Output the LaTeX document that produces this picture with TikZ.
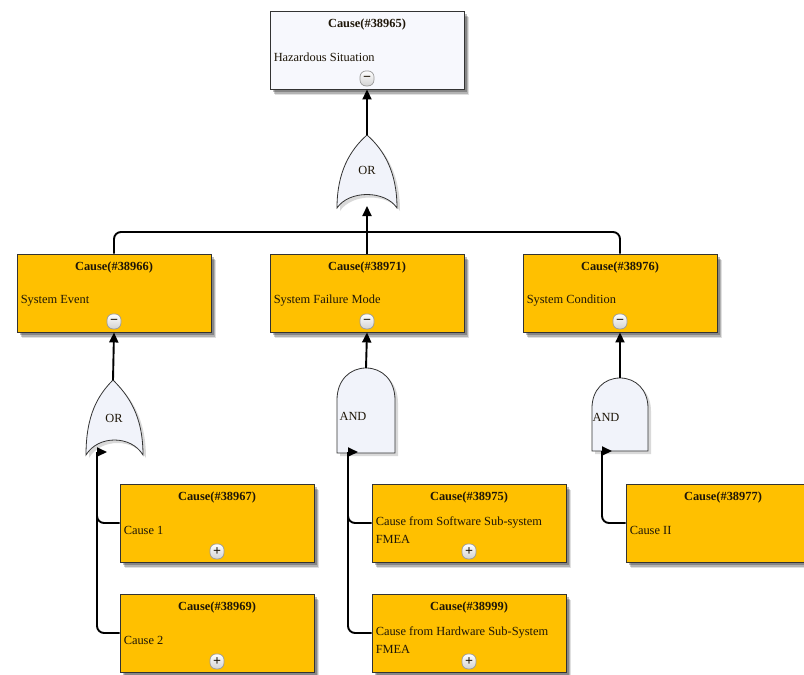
\documentclass[tikz,border=0pt]{standalone}
\usepackage{fontspec}
\setmainfont{Liberation Serif}
\usetikzlibrary{arrows.meta,shadows}

\definecolor{causeorange}{HTML}{FFC000}
\definecolor{topfill}{HTML}{F7F8FD}
\definecolor{gatefill}{HTML}{F1F3FA}
\definecolor{edgegray}{HTML}{333333}
\definecolor{inktext}{HTML}{1E1608}

\tikzset{
  every node/.style={font=\fontsize{12.4}{18}\selectfont, text=inktext},
  softshadow/.style={
    general shadow={shadow xshift=5pt, shadow yshift=-6pt, fill=black, opacity=0.12},
    general shadow={shadow xshift=4pt, shadow yshift=-4.5pt, fill=black, opacity=0.2},
    general shadow={shadow xshift=2.5pt, shadow yshift=-3pt, fill=black, opacity=0.25}},
  causebox/.style={draw=edgegray, line width=0.9pt, minimum width=194pt,
    minimum height=78pt, inner sep=0pt, softshadow},
  orangebox/.style={causebox, fill=causeorange},
  whitebox/.style={causebox, fill=topfill},
  titletext/.style={font=\fontsize{12.4}{18}\selectfont\bfseries, inner sep=0pt},
  bodytext/.style={anchor=west, align=left, inner sep=0pt},
  toggle/.style={rounded corners=6pt, draw=gray!80, line width=0.7pt, top color=white,
    bottom color=gray!35, minimum width=14pt, minimum height=15pt, inner sep=0pt,
    font=\fontsize{14}{14}\selectfont\bfseries},
  gate/.style={draw=edgegray, line width=0.8pt, fill=gatefill,
    general shadow={shadow xshift=3pt, shadow yshift=-3pt, fill=black, opacity=0.15}},
  gatelabel/.style={inner sep=0pt},
  line/.style={draw=black, line width=1.9pt},
  conn/.style={line, -{Triangle[length=10pt,width=9pt]}},
}

\begin{document}
\begin{tikzpicture}[x=1pt, y=-1pt]
\useasboundingbox (0,0) rectangle (804,675);

% ---------- logic gates ----------
\draw[gate] (337,208) .. controls (337,172) and (350,150) .. (367,135)
  .. controls (384,150) and (397,172) .. (397,208)
  .. controls (385,190) and (349,190) .. (337,208) -- cycle;
\node[gatelabel] (g1) at (367,170) {OR};

\draw[gate] (86,455) .. controls (86,415) and (98,395) .. (113,380)
  .. controls (128,395) and (143,415) .. (143,455)
  .. controls (131,435) and (98,435) .. (86,455) -- cycle;
\node[gatelabel] (g2) at (114,418) {OR};

\draw[gate] (337,453) -- (337,400) .. controls (337,380) and (350,368) .. (366,368)
  .. controls (382,368) and (395,380) .. (395,400) -- (395,453) -- cycle;
\node[gatelabel] (g3) at (353,416) {AND};

\draw[gate] (592,451) -- (592,408) .. controls (592,390) and (604,378) .. (620,378)
  .. controls (636,378) and (648,390) .. (648,408) -- (648,451) -- cycle;
\node[gatelabel] (g4) at (606,417) {AND};

% gate terminals
\coordinate (g1top) at (367,135);
\coordinate (g1in)  at (367,206);
\coordinate (g2top) at (113,380);
\coordinate (g3top) at (366,368);
\coordinate (g4top) at (620,378);
\coordinate (g2bend) at (97,452);  \coordinate (g2in) at (107,452);
\coordinate (g3bend) at (348,452); \coordinate (g3in) at (358,452);
\coordinate (g4bend) at (602,451); \coordinate (g4in) at (612,451);
\coordinate (bus) at (367,232);

% ---------- cause boxes ----------
\node[whitebox] (b1) at (367,50) {};
\node[titletext] (b1t) at ([yshift=-14pt]b1.north) {Cause(\#38965)};
\node[bodytext] (b1x) at ([xshift=4pt,yshift=-47pt]b1.north west) {Hazardous Situation};
\node[toggle] (b1m) at ([yshift=11pt]b1.south) {−};

\node[orangebox] (b2) at (114,293) {};
\node[titletext] (b2t) at ([yshift=-14pt]b2.north) {Cause(\#38966)};
\node[bodytext] (b2x) at ([xshift=4pt,yshift=-47pt]b2.north west) {System Event};
\node[toggle] (b2m) at ([yshift=11pt]b2.south) {−};

\node[orangebox] (b3) at (367,293) {};
\node[titletext] (b3t) at ([yshift=-14pt]b3.north) {Cause(\#38971)};
\node[bodytext] (b3x) at ([xshift=4pt,yshift=-47pt]b3.north west) {System Failure Mode};
\node[toggle] (b3m) at ([yshift=11pt]b3.south) {−};

\node[orangebox] (b4) at (620,293) {};
\node[titletext] (b4t) at ([yshift=-14pt]b4.north) {Cause(\#38976)};
\node[bodytext] (b4x) at ([xshift=4pt,yshift=-47pt]b4.north west) {System Condition};
\node[toggle] (b4m) at ([yshift=11pt]b4.south) {−};

\node[orangebox] (c1) at (217,523) {};
\node[titletext] (c1t) at ([yshift=-14pt]c1.north) {Cause(\#38967)};
\node[bodytext] (c1x) at ([xshift=4pt,yshift=-47pt]c1.north west) {Cause 1};
\node[toggle] (c1p) at ([yshift=11pt]c1.south) {+};

\node[orangebox] (c2) at (217,633) {};
\node[titletext] (c2t) at ([yshift=-14pt]c2.north) {Cause(\#38969)};
\node[bodytext] (c2x) at ([xshift=4pt,yshift=-47pt]c2.north west) {Cause 2};
\node[toggle] (c2p) at ([yshift=11pt]c2.south) {+};

\node[orangebox] (c3) at (469,523) {};
\node[titletext] (c3t) at ([yshift=-14pt]c3.north) {Cause(\#38975)};
\node[bodytext] (c3x) at ([xshift=4pt,yshift=-47pt]c3.north west) {Cause from Software Sub-system\\FMEA};
\node[toggle] (c3p) at ([yshift=11pt]c3.south) {+};

\node[orangebox] (c4) at (469,633) {};
\node[titletext] (c4t) at ([yshift=-14pt]c4.north) {Cause(\#38999)};
\node[bodytext] (c4x) at ([xshift=4pt,yshift=-47pt]c4.north west) {Cause from Hardware Sub-System\\FMEA};
\node[toggle] (c4p) at ([yshift=11pt]c4.south) {+};

\node[orangebox] (c5) at (723,523) {};
\node[titletext] (c5t) at ([yshift=-14pt]c5.north) {Cause(\#38977)};
\node[bodytext] (c5x) at ([xshift=4pt,yshift=-47pt]c5.north west) {Cause II};

% ---------- connectors ----------
\draw[conn] (g1top) -- (b1.south);
\draw[line, rounded corners=7pt] (b2.north) |- (bus);
\draw[line, rounded corners=7pt] (b4.north) |- (bus);
\draw[conn] (b3.north) -- (g1in);

\draw[conn] (g2top) -- (b2.south);
\draw[conn] (g3top) -- (b3.south);
\draw[conn] (g4top) -- (b4.south);

\draw[line, rounded corners=7pt] (c1.west) -| (g2bend);
\draw[line, rounded corners=7pt] (c2.west) -| (g2bend);
\draw[conn] (g2bend) -- (g2in);

\draw[line, rounded corners=7pt] (c3.west) -| (g3bend);
\draw[line, rounded corners=7pt] (c4.west) -| (g3bend);
\draw[conn] (g3bend) -- (g3in);

\draw[line, rounded corners=7pt] (c5.west) -| (g4bend);
\draw[conn] (g4bend) -- (g4in);
\end{tikzpicture}
\end{document}
